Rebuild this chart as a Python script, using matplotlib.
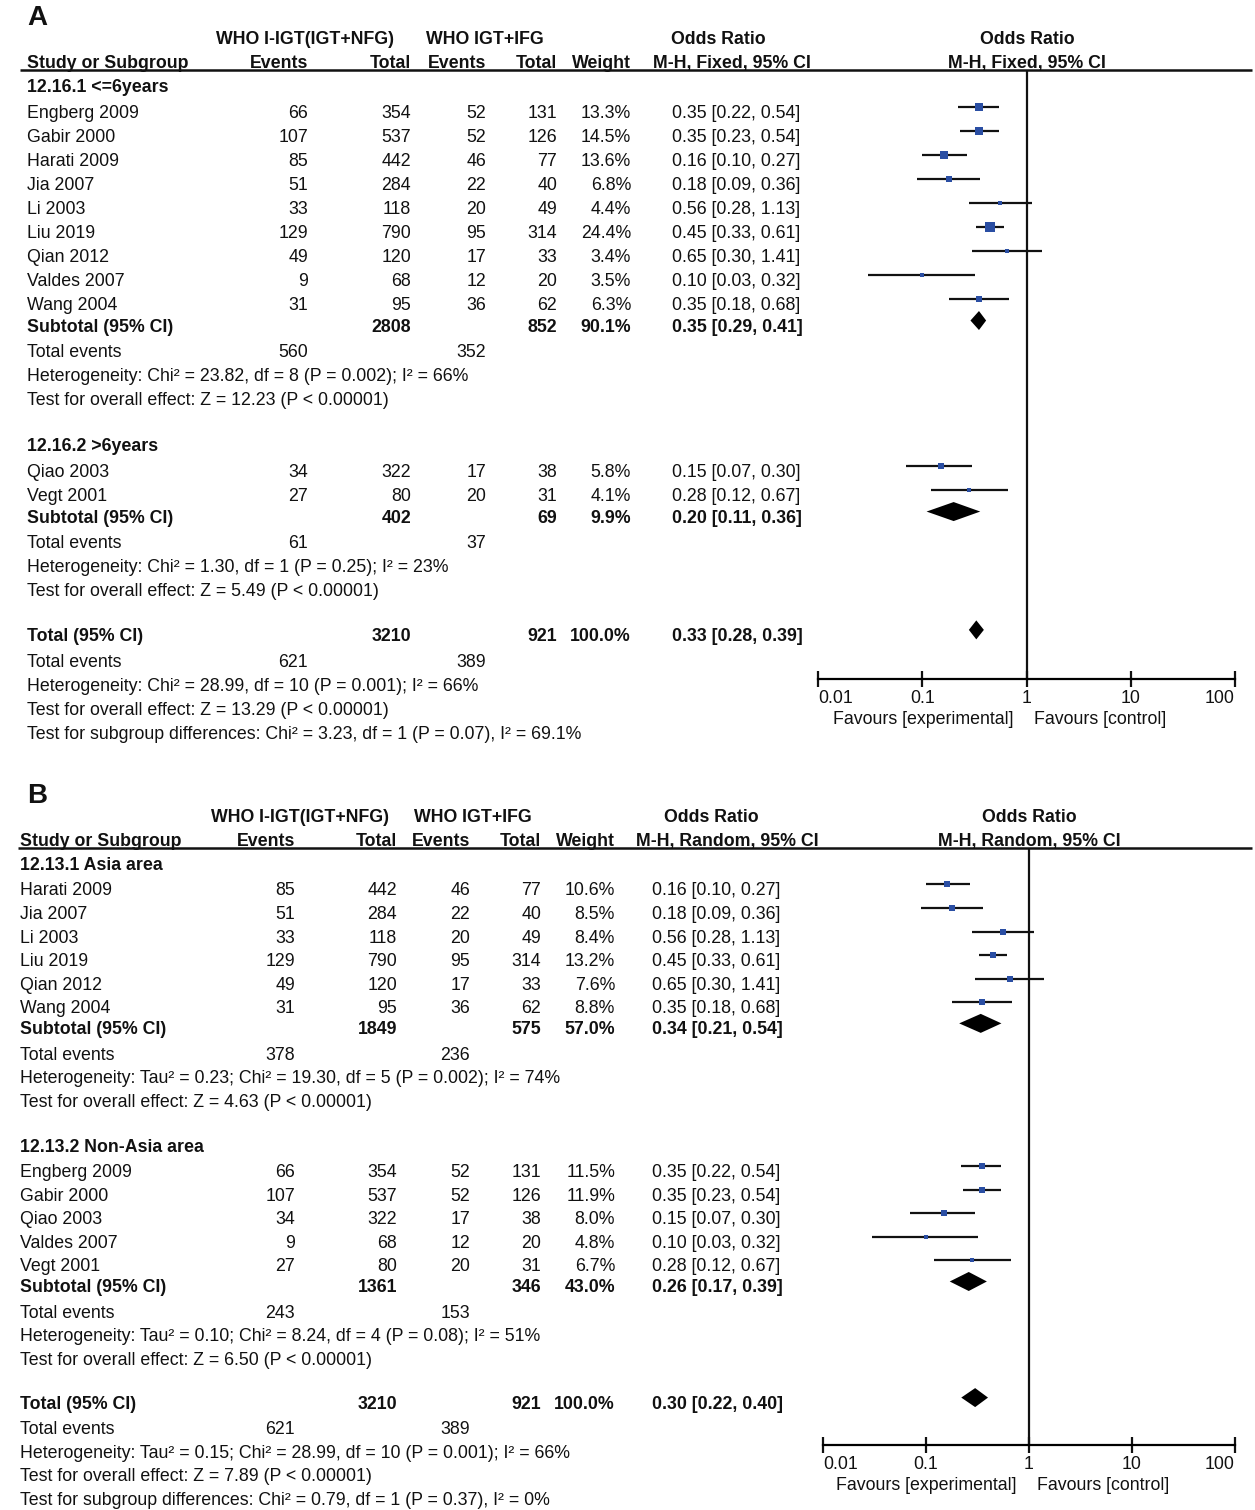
import matplotlib.pyplot as plt
from matplotlib.patches import Polygon
from matplotlib.ticker import NullLocator

plt.rcParams['font.family'] = ['Liberation Sans', 'DejaVu Sans']
FS = 12.8
BLUE = '#2a4ea3'

# ---------------- panel A : M-H fixed, by follow-up time
a1_title = '12.16.1 <=6years'
a1_study = ['Engberg 2009', 'Gabir 2000', 'Harati 2009', 'Jia 2007', 'Li 2003',
            'Liu 2019', 'Qian 2012', 'Valdes 2007', 'Wang 2004']
a1_ev1 = [66, 107, 85, 51, 33, 129, 49, 9, 31]
a1_n1 = [354, 537, 442, 284, 118, 790, 120, 68, 95]
a1_ev2 = [52, 52, 46, 22, 20, 95, 17, 12, 36]
a1_n2 = [131, 126, 77, 40, 49, 314, 33, 20, 62]
a1_w = [13.3, 14.5, 13.6, 6.8, 4.4, 24.4, 3.4, 3.5, 6.3]
a1_or = [0.35, 0.35, 0.16, 0.18, 0.56, 0.45, 0.65, 0.10, 0.35]
a1_lo = [0.22, 0.23, 0.10, 0.09, 0.28, 0.33, 0.30, 0.03, 0.18]
a1_hi = [0.54, 0.54, 0.27, 0.36, 1.13, 0.61, 1.41, 0.32, 0.68]
a1_sub = [2808, 852, 90.1, 0.35, 0.29, 0.41]
a1_events = [560, 352]
a1_het = 'Heterogeneity: Chi\u00b2 = 23.82, df = 8 (P = 0.002); I\u00b2 = 66%'
a1_z = 'Test for overall effect: Z = 12.23 (P < 0.00001)'

a2_title = '12.16.2 >6years'
a2_study = ['Qiao 2003', 'Vegt 2001']
a2_ev1 = [34, 27]
a2_n1 = [322, 80]
a2_ev2 = [17, 20]
a2_n2 = [38, 31]
a2_w = [5.8, 4.1]
a2_or = [0.15, 0.28]
a2_lo = [0.07, 0.12]
a2_hi = [0.30, 0.67]
a2_sub = [402, 69, 9.9, 0.20, 0.11, 0.36]
a2_events = [61, 37]
a2_het = 'Heterogeneity: Chi\u00b2 = 1.30, df = 1 (P = 0.25); I\u00b2 = 23%'
a2_z = 'Test for overall effect: Z = 5.49 (P < 0.00001)'

a_total = [3210, 921, 100.0, 0.33, 0.28, 0.39]
a_events = [621, 389]
a_het = 'Heterogeneity: Chi\u00b2 = 28.99, df = 10 (P = 0.001); I\u00b2 = 66%'
a_z = 'Test for overall effect: Z = 13.29 (P < 0.00001)'
a_diff = 'Test for subgroup differences: Chi\u00b2 = 3.23, df = 1 (P = 0.07), I\u00b2 = 69.1%'

# ---------------- panel B : M-H random, by area
b1_title = '12.13.1 Asia area'
b1_study = ['Harati 2009', 'Jia 2007', 'Li 2003', 'Liu 2019', 'Qian 2012', 'Wang 2004']
b1_ev1 = [85, 51, 33, 129, 49, 31]
b1_n1 = [442, 284, 118, 790, 120, 95]
b1_ev2 = [46, 22, 20, 95, 17, 36]
b1_n2 = [77, 40, 49, 314, 33, 62]
b1_w = [10.6, 8.5, 8.4, 13.2, 7.6, 8.8]
b1_or = [0.16, 0.18, 0.56, 0.45, 0.65, 0.35]
b1_lo = [0.10, 0.09, 0.28, 0.33, 0.30, 0.18]
b1_hi = [0.27, 0.36, 1.13, 0.61, 1.41, 0.68]
b1_sub = [1849, 575, 57.0, 0.34, 0.21, 0.54]
b1_events = [378, 236]
b1_het = 'Heterogeneity: Tau\u00b2 = 0.23; Chi\u00b2 = 19.30, df = 5 (P = 0.002); I\u00b2 = 74%'
b1_z = 'Test for overall effect: Z = 4.63 (P < 0.00001)'

b2_title = '12.13.2 Non-Asia area'
b2_study = ['Engberg 2009', 'Gabir 2000', 'Qiao 2003', 'Valdes 2007', 'Vegt 2001']
b2_ev1 = [66, 107, 34, 9, 27]
b2_n1 = [354, 537, 322, 68, 80]
b2_ev2 = [52, 52, 17, 12, 20]
b2_n2 = [131, 126, 38, 20, 31]
b2_w = [11.5, 11.9, 8.0, 4.8, 6.7]
b2_or = [0.35, 0.35, 0.15, 0.10, 0.28]
b2_lo = [0.22, 0.23, 0.07, 0.03, 0.12]
b2_hi = [0.54, 0.54, 0.30, 0.32, 0.67]
b2_sub = [1361, 346, 43.0, 0.26, 0.17, 0.39]
b2_events = [243, 153]
b2_het = 'Heterogeneity: Tau\u00b2 = 0.10; Chi\u00b2 = 8.24, df = 4 (P = 0.08); I\u00b2 = 51%'
b2_z = 'Test for overall effect: Z = 6.50 (P < 0.00001)'

b_total = [3210, 921, 100.0, 0.30, 0.22, 0.40]
b_events = [621, 389]
b_het = 'Heterogeneity: Tau\u00b2 = 0.15; Chi\u00b2 = 28.99, df = 10 (P = 0.001); I\u00b2 = 66%'
b_z = 'Test for overall effect: Z = 7.89 (P < 0.00001)'
b_diff = 'Test for subgroup differences: Chi\u00b2 = 0.79, df = 1 (P = 0.37), I\u00b2 = 0%'

ticks = [0.01, 0.1, 1, 10, 100]
tick_labels = ['0.01', '0.1', '1', '10', '100']


def group(title, study, ev1, n1, ev2, n2, w, orr, lo, hi, sub, events, het, z):
    return dict(title=title, study=study, ev1=ev1, n1=n1, ev2=ev2, n2=n2, w=w,
                orr=orr, lo=lo, hi=hi, sub=sub, events=events, het=het, z=z)


W, H = 1255, 1510
fig = plt.figure(figsize=(W / 100, H / 100), dpi=100)
ax = fig.add_axes([0, 0, 1, 1])
ax.set_xlim(0, W)
ax.set_ylim(H, 0)
ax.axis('off')


def txt(x, y, s, ha='left', bold=False, size=FS):
    # y is the visual middle of the row, baseline sits ~6px lower
    ax.text(x, y + 6, s, ha=ha, va='baseline', fontsize=size,
            fontweight='bold' if bold else 'normal', color='#111111')


def forest_axes(left, right, top, bottom):
    fa = fig.add_axes([left / W, 1 - bottom / H, (right - left) / W, (bottom - top) / H])
    fa.set_xscale('log')
    fa.set_xlim(0.01, 100)
    fa.set_ylim(bottom, top)
    fa.patch.set_alpha(0)
    for k in ('top', 'left', 'right'):
        fa.spines[k].set_visible(False)
    fa.spines['bottom'].set_linewidth(1.6)
    fa.set_yticks([])
    fa.set_xticks(ticks)
    fa.set_xticklabels(tick_labels)
    fa.xaxis.set_minor_locator(NullLocator())
    fa.tick_params(axis='x', direction='inout', length=12, width=1.6,
                   labelsize=FS, pad=2, colors='#111111')
    labs = fa.get_xticklabels()
    labs[0].set_ha('left')
    labs[-1].set_ha('right')
    fa.axvline(1, color='#111111', lw=1.6)
    mid = (left + right) / 2
    txt(mid - 13, bottom + 39, 'Favours [experimental]', ha='right')
    txt(mid + 8, bottom + 39, 'Favours [control]')
    return fa


def diamond(fa, y, orr, lo, hi):
    fa.add_patch(Polygon([(lo, y), (orr, y - 9.5), (hi, y), (orr, y + 9.5)],
                         closed=True, color='black', lw=0))


def ci_text(orr, lo, hi):
    return f'{orr:.2f} [{lo:.2f}, {hi:.2f}]'


def draw_panel(letter, top, step, c, method, groups, total, events, het, z, diff, fx, ksq):
    txt(27, top + 5, letter, bold=True, size=20)
    h1, h2 = top + 24, top + 48
    line_y = top + 56
    txt(c['g1'], h1, 'WHO I-IGT(IGT+NFG)', ha='center', bold=True)
    txt(c['g2'], h1, 'WHO IGT+IFG', ha='center', bold=True)
    txt(c['orh'], h1, 'Odds Ratio', ha='center', bold=True)
    txt(fx['mid'], h1, 'Odds Ratio', ha='center', bold=True)
    txt(c['name'], h2, 'Study or Subgroup', bold=True)
    txt(c['e1'], h2, 'Events', ha='right', bold=True)
    txt(c['n1'], h2, 'Total', ha='right', bold=True)
    txt(c['e2'], h2, 'Events', ha='right', bold=True)
    txt(c['n2'], h2, 'Total', ha='right', bold=True)
    txt(c['w'], h2, 'Weight', ha='right', bold=True)
    txt(c['orm'], h2, method, ha='center', bold=True)
    txt(fx['mid'], h2, method, ha='center', bold=True)
    ax.plot([c['line0'], 1252], [line_y, line_y], color='#111111', lw=1.8,
            solid_capstyle='butt')

    fa = forest_axes(fx['left'], fx['right'], line_y, fx['bottom'])

    y = top + 72
    for gi, g in enumerate(groups):
        if gi > 0:
            y += 1.9 * step
        txt(c['name'], y, g['title'], bold=True)
        y += 1.08 * step
        for i in range(len(g['study'])):
            txt(c['name'], y, g['study'][i])
            txt(c['e1'], y, str(g['ev1'][i]), ha='right')
            txt(c['n1'], y, str(g['n1'][i]), ha='right')
            txt(c['e2'], y, str(g['ev2'][i]), ha='right')
            txt(c['n2'], y, str(g['n2'][i]), ha='right')
            txt(c['w'], y, f"{g['w'][i]:.1f}%", ha='right')
            txt(c['ort'], y, ci_text(g['orr'][i], g['lo'][i], g['hi'][i]))
            my = y - 5
            fa.plot([g['lo'][i], g['hi'][i]], [my, my], color='#111111', lw=1.6,
                    solid_capstyle='butt', clip_on=False)
            side = ksq * g['w'][i] ** 0.5
            fa.plot(g['orr'][i], my, marker='s', ms=side * 0.72, color=BLUE,
                    mew=0, clip_on=False)
            y += step
        y += 0.9 * step - step
        s = g['sub']
        txt(c['name'], y, 'Subtotal (95% CI)', bold=True)
        txt(c['n1'], y, str(s[0]), ha='right', bold=True)
        txt(c['n2'], y, str(s[1]), ha='right', bold=True)
        txt(c['w'], y, f'{s[2]:.1f}%', ha='right', bold=True)
        txt(c['ort'], y, ci_text(s[3], s[4], s[5]), bold=True)
        diamond(fa, y - 5, s[3], s[4], s[5])
        y += 1.08 * step
        txt(c['name'], y, 'Total events')
        txt(c['e1'], y, str(g['events'][0]), ha='right')
        txt(c['e2'], y, str(g['events'][1]), ha='right')
        y += step
        txt(c['name'], y, g['het'])
        y += step
        txt(c['name'], y, g['z'])

    y += 1.85 * step
    txt(c['name'], y, 'Total (95% CI)', bold=True)
    txt(c['n1'], y, str(total[0]), ha='right', bold=True)
    txt(c['n2'], y, str(total[1]), ha='right', bold=True)
    txt(c['w'], y, f'{total[2]:.1f}%', ha='right', bold=True)
    txt(c['ort'], y, ci_text(total[3], total[4], total[5]), bold=True)
    diamond(fa, y - 5, total[3], total[4], total[5])
    y += 1.08 * step
    txt(c['name'], y, 'Total events')
    txt(c['e1'], y, str(events[0]), ha='right')
    txt(c['e2'], y, str(events[1]), ha='right')
    y += step
    txt(c['name'], y, het)
    y += step
    txt(c['name'], y, z)
    y += step
    txt(c['name'], y, diff)


groups_a = [group(a1_title, a1_study, a1_ev1, a1_n1, a1_ev2, a1_n2, a1_w, a1_or, a1_lo, a1_hi,
                  a1_sub, a1_events, a1_het, a1_z),
            group(a2_title, a2_study, a2_ev1, a2_n1, a2_ev2, a2_n2, a2_w, a2_or, a2_lo, a2_hi,
                  a2_sub, a2_events, a2_het, a2_z)]
groups_b = [group(b1_title, b1_study, b1_ev1, b1_n1, b1_ev2, b1_n2, b1_w, b1_or, b1_lo, b1_hi,
                  b1_sub, b1_events, b1_het, b1_z),
            group(b2_title, b2_study, b2_ev1, b2_n1, b2_ev2, b2_n2, b2_w, b2_or, b2_lo, b2_hi,
                  b2_sub, b2_events, b2_het, b2_z)]

cols_a = dict(name=27, e1=308, n1=411, e2=486, n2=557, w=631, ort=672,
              g1=305, g2=485, orh=718, orm=732, line0=20)
cols_b = dict(name=20, e1=295, n1=397, e2=470, n2=541, w=615, ort=652,
              g1=300, g2=473, orh=711, orm=727, line0=18)

draw_panel('A', 14, 24.0, cols_a, 'M-H, Fixed, 95% CI', groups_a,
           a_total, a_events, a_het, a_z, a_diff,
           dict(left=818, right=1235, bottom=679, mid=1027), 2.2)
draw_panel('B', 792, 23.55, cols_b, 'M-H, Random, 95% CI', groups_b,
           b_total, b_events, b_het, b_z, b_diff,
           dict(left=823, right=1235, bottom=1445, mid=1029), 1.9)

fig.savefig('out.png', dpi=100)
